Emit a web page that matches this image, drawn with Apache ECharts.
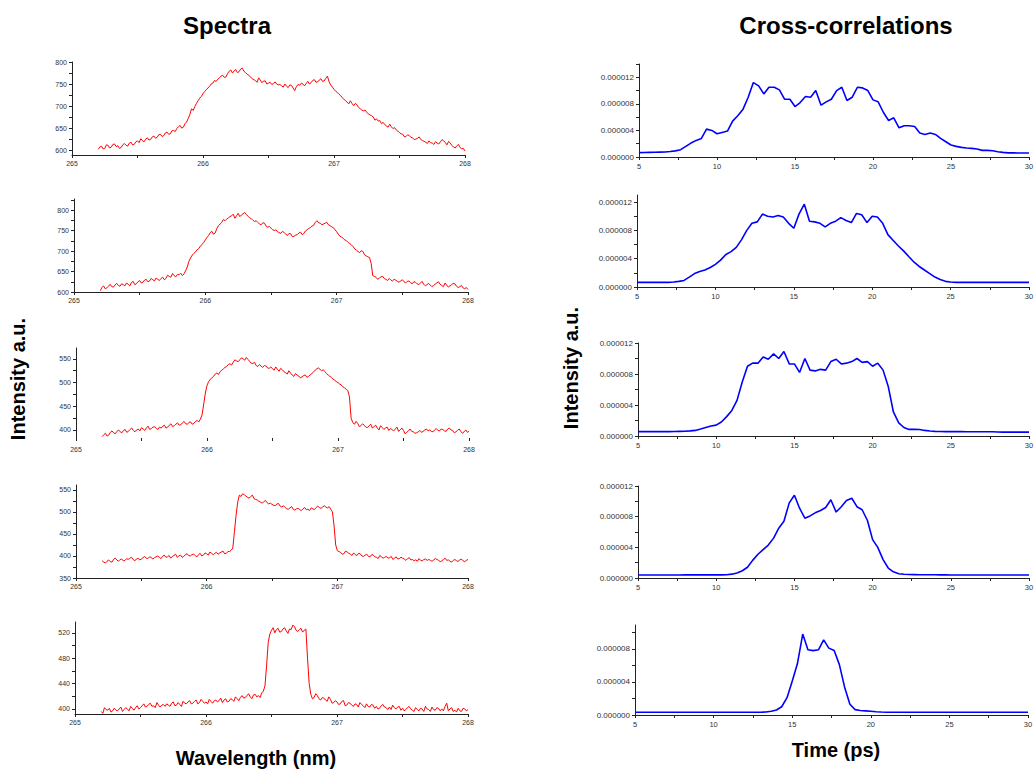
<!DOCTYPE html>
<html>
<head>
<meta charset="utf-8">
<script src="https://cdn.jsdelivr.net/npm/echarts@6/dist/echarts.min.js"></script>
<style>
  html, body { margin: 0; padding: 0; background: #fff; }
  #main { width: 1034px; height: 769px; }
</style>
</head>
<body>
<div id="main"></div>
<script>
// wavelength grid (nm) shared by the five spectra
var wavelength = [
  265.2, 265.2125, 265.225, 265.2375, 265.25, 265.2625, 265.275, 265.2875,
  265.3, 265.3125, 265.325, 265.3375, 265.35, 265.3625, 265.375, 265.3875,
  265.4, 265.4125, 265.425, 265.4375, 265.45, 265.4625, 265.475, 265.4875,
  265.5, 265.5125, 265.525, 265.5375, 265.55, 265.5625, 265.575, 265.5875,
  265.6, 265.6125, 265.625, 265.6375, 265.65, 265.6625, 265.675, 265.6875,
  265.7, 265.7125, 265.725, 265.7375, 265.75, 265.7625, 265.775, 265.7875,
  265.8, 265.8125, 265.825, 265.8375, 265.85, 265.8625, 265.875, 265.8875,
  265.9, 265.9125, 265.925, 265.9375, 265.95, 265.9625, 265.975, 265.9875,
  266.0, 266.0125, 266.025, 266.0375, 266.05, 266.0625, 266.075, 266.0875,
  266.1, 266.1125, 266.125, 266.1375, 266.15, 266.1625, 266.175, 266.1875,
  266.2, 266.2125, 266.225, 266.2375, 266.25, 266.2625, 266.275, 266.2875,
  266.3, 266.3125, 266.325, 266.3375, 266.35, 266.3625, 266.375, 266.3875,
  266.4, 266.4125, 266.425, 266.4375, 266.45, 266.4625, 266.475, 266.4875,
  266.5, 266.5125, 266.525, 266.5375, 266.55, 266.5625, 266.575, 266.5875,
  266.6, 266.6125, 266.625, 266.6375, 266.65, 266.6625, 266.675, 266.6875,
  266.7, 266.7125, 266.725, 266.7375, 266.75, 266.7625, 266.775, 266.7875,
  266.8, 266.8125, 266.825, 266.8375, 266.85, 266.8625, 266.875, 266.8875,
  266.9, 266.9125, 266.925, 266.9375, 266.95, 266.9625, 266.975, 266.9875,
  267.0, 267.0125, 267.025, 267.0375, 267.05, 267.0625, 267.075, 267.0875,
  267.1, 267.1125, 267.125, 267.1375, 267.15, 267.1625, 267.175, 267.1875,
  267.2, 267.2125, 267.225, 267.2375, 267.25, 267.2625, 267.275, 267.2875,
  267.3, 267.3125, 267.325, 267.3375, 267.35, 267.3625, 267.375, 267.3875,
  267.4, 267.4125, 267.425, 267.4375, 267.45, 267.4625, 267.475, 267.4875,
  267.5, 267.5125, 267.525, 267.5375, 267.55, 267.5625, 267.575, 267.5875,
  267.6, 267.6125, 267.625, 267.6375, 267.65, 267.6625, 267.675, 267.6875,
  267.7, 267.7125, 267.725, 267.7375, 267.75, 267.7625, 267.775, 267.7875,
  267.8, 267.8125, 267.825, 267.8375, 267.85, 267.8625, 267.875, 267.8875,
  267.9, 267.9125, 267.925, 267.9375, 267.95, 267.9625, 267.975, 267.9875,
  268.0
];

var spectrum1 = [
  602, 607, 609, 603, 604, 612, 611, 605,
  607, 613, 614, 608, 610, 604, 606, 612,
  615, 611, 609, 616, 618, 612, 613, 619,
  621, 617, 626, 622, 619, 625, 628, 623,
  624, 630, 632, 627, 629, 635, 636, 631,
  633, 639, 641, 636, 637, 644, 645, 642,
  649, 653, 656, 650, 652, 660, 664, 672,
  681, 694, 690, 699, 706, 712, 718, 722,
  728, 733, 737, 741, 745, 750, 752, 758,
  756, 761, 764, 768, 770, 765, 766, 774,
  779, 782, 775, 780, 783, 776, 778, 784,
  786, 779, 776, 772, 770, 766, 762, 760,
  758, 754, 764, 759, 753, 757, 757, 750,
  752, 754, 749, 751, 755, 750, 748, 749,
  746, 743, 750, 745, 742, 748, 747, 741,
  735, 744, 749, 747, 752, 750, 746, 751,
  756, 750, 753, 758, 760, 754, 755, 759,
  762, 756, 757, 763, 768, 755, 748, 743,
  738, 734, 731, 727, 724, 719, 716, 712,
  709, 705, 712, 706, 701, 706, 703, 697,
  694, 691, 689, 691, 686, 682, 680, 678,
  675, 668, 671, 666, 667, 660, 663, 658,
  655, 652, 659, 653, 649, 651, 646, 643,
  640, 637, 636, 630, 631, 635, 633, 629,
  628, 624, 625, 627, 630, 624, 622, 620,
  618, 615, 621, 617, 616, 613, 619, 616,
  614, 619, 624, 621, 617, 612, 620, 616,
  611, 607, 605, 610, 613, 606, 603, 604,
  598
];

var spectrum2 = [
  603, 611, 615, 608, 610, 614, 619, 613,
  612, 617, 621, 616, 614, 620, 618, 615,
  622, 619, 615, 623, 626, 618, 620, 625,
  628, 622, 624, 629, 631, 625, 627, 633,
  630, 627, 634, 631, 628, 633, 636, 630,
  633, 641, 638, 636, 645, 640, 637, 643,
  642, 646, 640, 644, 652, 661, 675, 683,
  690, 694, 698, 703, 706, 712, 716, 721,
  727, 733, 738, 745, 748, 741, 744, 755,
  762, 766, 770, 777, 774, 778, 781, 784,
  786, 790, 780, 786, 792, 784, 788, 791,
  794, 789, 785, 781, 779, 775, 772, 774,
  770, 766, 764, 769, 768, 761, 758, 760,
  756, 752, 750, 752, 747, 745, 743, 748,
  745, 741, 738, 743, 742, 735, 736, 739,
  740, 744, 746, 740, 743, 749, 752, 755,
  757, 761, 763, 770, 774, 769, 768, 764,
  766, 768, 770, 764, 762, 759, 757, 752,
  747, 741, 736, 734, 731, 727, 725, 721,
  718, 715, 711, 705, 702, 699, 696, 701,
  699, 691, 688, 686, 684, 670, 640, 638,
  636, 631, 634, 637, 638, 633, 631, 628,
  633, 629, 627, 631, 629, 626, 624, 627,
  630, 625, 622, 626, 627, 623, 620, 625,
  624, 620, 618, 622, 626, 619, 615, 618,
  621, 617, 613, 616, 619, 622, 625, 619,
  616, 613, 622, 617, 612, 615, 618, 621,
  620, 614, 611, 613, 616, 610, 608, 611,
  606
];

var spectrum3 = [
  386, 390, 393, 387, 389, 395, 398, 394,
  392, 397, 400, 396, 394, 399, 401, 395,
  397, 401, 404, 399, 396, 400, 402, 398,
  405, 402, 399, 404, 408, 401, 403, 406,
  407, 403, 401, 406, 404, 408, 410, 404,
  406, 410, 413, 407, 409, 412, 415, 410,
  411, 415, 418, 413, 412, 416, 417, 412,
  414, 418, 420, 417, 423, 432, 455, 478,
  494, 502, 507, 510, 513, 518, 520, 517,
  523, 526, 529, 532, 534, 538, 540, 537,
  543, 548, 546, 544, 548, 552, 551, 547,
  553, 549, 545, 541, 540, 543, 536, 534,
  538, 535, 532, 536, 535, 531, 530, 533,
  529, 526, 533, 528, 524, 530, 527, 523,
  521, 518, 525, 520, 516, 513, 519, 516,
  514, 510, 512, 515, 516, 511, 513, 516,
  519, 522, 526, 529, 531, 528, 525, 527,
  523, 519, 516, 513, 511, 507, 505, 502,
  500, 497, 495, 491, 489, 486, 483, 470,
  425, 416, 412, 418, 414, 407, 409, 413,
  410, 406, 405, 409, 412, 404, 407, 410,
  404, 400, 409, 405, 401, 404, 406, 399,
  403, 401, 398, 402, 406, 397, 400, 404,
  399, 392, 395, 398, 402, 397, 396, 393,
  394, 396, 399, 395, 397, 400, 402, 398,
  400, 397, 396, 400, 403, 399, 398, 402,
  401, 398, 397, 402, 404, 400, 399, 394,
  396, 399, 402, 397, 393, 396, 400, 395,
  397
];

var spectrum4 = [
  389, 386, 384, 388, 391, 387, 386, 392,
  395, 391, 388, 392, 393, 389, 390, 394,
  392, 395, 397, 392, 389, 393, 395, 391,
  393, 396, 399, 395, 394, 398, 397, 393,
  396, 398, 400, 397, 394, 399, 402, 397,
  398, 401, 395, 399, 401, 404, 397, 400,
  402, 397, 399, 403, 405, 401, 400, 403,
  404, 401, 398, 403, 406, 400, 402, 407,
  405, 402, 409, 406, 403, 406, 408, 404,
  407, 409, 411, 405, 406, 410, 410, 413,
  418, 455, 492, 522, 538, 535, 541, 539,
  536, 533, 531, 535, 538, 530, 528, 527,
  524, 522, 520, 523, 526, 521, 518, 520,
  517, 515, 514, 518, 519, 513, 511, 514,
  510, 507, 506, 509, 512, 506, 504, 507,
  508, 505, 503, 507, 510, 505, 506, 503,
  509, 507, 505, 510, 513, 510, 508, 511,
  514, 511, 509, 512, 506, 500, 468, 425,
  412, 410, 408, 404, 405, 411, 409, 406,
  404, 401, 407, 403, 401, 406, 405, 400,
  399, 402, 404, 399, 398, 403, 402, 398,
  397, 394, 401, 398, 395, 397, 399, 395,
  396, 399, 392, 395, 398, 393, 394, 397,
  395, 393, 390, 394, 396, 391, 392, 389,
  391, 388, 394, 390, 389, 392, 393, 390,
  392, 390, 388, 391, 394, 392, 390, 387,
  389, 392, 395, 390, 391, 388, 386, 390,
  392, 389, 388, 391, 393, 389, 387, 390,
  392
];

var spectrum5 = [
  396, 393, 402, 399, 398, 401, 395, 397,
  401, 398, 397, 400, 403, 396, 399, 402,
  400, 397, 404, 401, 398, 402, 405, 400,
  402, 405, 408, 403, 404, 407, 409, 404,
  405, 402, 410, 406, 403, 406, 407, 404,
  408, 406, 404, 409, 411, 405, 406, 410,
  407, 404, 412, 409, 408, 411, 413, 408,
  409, 412, 414, 408, 410, 415, 412, 409,
  411, 408, 415, 412, 409, 413, 414, 411,
  413, 417, 410, 414, 416, 411, 412, 416,
  415, 412, 419, 416, 413, 418, 421, 417,
  418, 421, 424, 419, 416, 422, 423, 419,
  421, 418, 425, 428, 436, 468, 505, 518,
  524, 528, 520, 525, 527, 521, 522, 526,
  528, 523, 519, 526, 525, 532, 530, 524,
  522, 525, 527, 521, 524, 526, 480, 440,
  423, 416, 418, 424, 421, 416, 414, 418,
  417, 414, 412, 419, 415, 409, 410, 413,
  411, 407, 408, 412, 413, 405, 406, 410,
  409, 406, 404, 408, 407, 403, 410, 407,
  405, 402, 408, 404, 403, 407, 406, 401,
  404, 400, 401, 405, 407, 403, 402, 399,
  403, 399, 406, 402, 400, 403, 404, 398,
  401, 397, 399, 402, 404, 400, 398, 396,
  402, 399, 397, 401, 400, 396, 404, 400,
  399, 396, 403, 399, 398, 402, 401, 397,
  400, 397, 404, 409, 397, 400, 402, 396,
  398, 395, 401, 397, 396, 401, 400, 397,
  399
];

// delay (ps) shared by the five cross-correlations, intensities in units of 1e-6
var time = [
  5.00, 5.33, 5.67,  6.00, 6.33, 6.67,  7.00, 7.33, 7.67,  8.00, 8.33, 8.67,
  9.00, 9.33, 9.67,  10.00, 10.33, 10.67,  11.00, 11.33, 11.67,  12.00, 12.33, 12.67,
  13.00, 13.33, 13.67,  14.00, 14.33, 14.67,  15.00, 15.33, 15.67,  16.00, 16.33, 16.67,
  17.00, 17.33, 17.67,  18.00, 18.33, 18.67,  19.00, 19.33, 19.67,  20.00, 20.33, 20.67,
  21.00, 21.33, 21.67,  22.00, 22.33, 22.67,  23.00, 23.33, 23.67,  24.00, 24.33, 24.67,
  25.00, 25.33, 25.67,  26.00, 26.33, 26.67,  27.00, 27.33, 27.67,  28.00, 28.33, 28.67,
  29.00, 29.33, 29.67,  30.00
];

var xcorr1 = [
  0.66, 0.68, 0.70,  0.72, 0.74, 0.75,  0.82, 0.92, 1.10,  1.6, 2.1, 2.5,
  2.8, 4.2, 4.0,  3.5, 3.7, 3.9,  5.4, 6.2, 7.2,  9.0, 11.2, 10.7,
  9.5, 10.5, 10.5,  10.1, 8.7, 8.7,  7.6, 8.2, 9.1,  9.0, 10.0, 7.8,
  8.3, 8.7, 10.0,  10.5, 8.5, 9.0,  10.5, 10.4, 10.0,  8.6, 8.3, 6.7,
  5.5, 5.9, 4.4,  4.7, 4.7, 4.6,  3.6, 3.4, 3.6,  3.4, 2.8, 2.3,
  1.8, 1.6, 1.45,  1.35, 1.3, 1.2,  1.0, 1.0, 0.95,  0.8, 0.7, 0.62,
  0.62, 0.6, 0.6,  0.6
];

var xcorr2 = [
  0.65, 0.65, 0.65,  0.65, 0.65, 0.65,  0.66, 0.7, 0.8,  0.93, 1.4, 1.9,
  2.2, 2.4, 2.75,  3.2, 3.8, 4.6,  5.0, 5.6, 6.7,  8.0, 9.0, 9.2,
  10.3, 10.0, 9.9,  10.1, 9.9, 9.0,  8.3, 10.3, 11.7,  9.3, 9.2, 9.0,
  8.5, 9.0, 9.3,  9.8, 9.4, 9.1,  10.4, 10.2, 9.1,  10.0, 9.9, 9.0,
  7.4, 6.6, 5.8,  5.1, 4.3, 3.5,  2.9, 2.4, 1.9,  1.4, 1.05, 0.8,
  0.7, 0.66, 0.65,  0.65, 0.65, 0.65,  0.65, 0.65, 0.65,  0.65, 0.65, 0.65,
  0.65, 0.65, 0.65,  0.65
];

var xcorr3 = [
  0.56, 0.56, 0.56,  0.56, 0.56, 0.57,  0.57, 0.58, 0.6,  0.62, 0.66, 0.72,
  0.9, 1.1, 1.3,  1.4, 1.8, 2.5,  3.3, 4.6, 7.0,  9.0, 9.4, 9.4,
  10.2, 9.9, 10.6,  10.0, 10.9, 9.3,  9.3, 8.2, 10.0,  8.5, 8.4, 8.6,
  8.5, 9.6, 9.9,  9.3, 9.4, 9.6,  10.0, 9.5, 9.6,  9.0, 9.4, 8.5,
  6.4, 3.1, 1.7,  1.1, 0.85, 0.85,  0.84, 0.72, 0.65,  0.6, 0.58, 0.56,
  0.56, 0.56, 0.56,  0.55, 0.55, 0.55,  0.55, 0.54, 0.54,  0.52, 0.5, 0.5,
  0.5, 0.5, 0.52,  0.5
];

var xcorr4 = [
  0.4, 0.4, 0.4,  0.4, 0.4, 0.4,  0.4, 0.4, 0.4,  0.41, 0.41, 0.41,
  0.41, 0.41, 0.41,  0.41, 0.41, 0.43,  0.5, 0.65, 0.95,  1.4, 2.3, 3.1,
  3.7, 4.3, 5.2,  6.5, 7.4, 9.8,  10.8, 9.1, 7.8,  8.1, 8.5, 8.8,
  9.2, 10.2, 8.6,  9.3, 10.1, 10.4,  9.3, 8.9, 7.5,  5.0, 4.0, 2.4,
  1.3, 0.8, 0.55,  0.48, 0.45, 0.44,  0.43, 0.42, 0.42,  0.42, 0.41, 0.41,
  0.4, 0.4, 0.4,  0.4, 0.4, 0.4,  0.4, 0.4, 0.4,  0.4, 0.4, 0.4,
  0.4, 0.4, 0.4,  0.4
];

var xcorr5 = [
  0.33, 0.33, 0.33,  0.33, 0.33, 0.33,  0.33, 0.33, 0.33,  0.33, 0.33, 0.33,
  0.33, 0.33, 0.33,  0.33, 0.33, 0.33,  0.33, 0.33, 0.33,  0.33, 0.33, 0.33,
  0.34, 0.36, 0.45,  0.6, 1.0, 2.1,  4.1, 6.2, 9.8,  7.9, 7.8, 7.9,
  9.1, 8.1, 7.8,  6.1, 3.4, 1.3,  0.65, 0.55, 0.5,  0.45, 0.4, 0.36,
  0.34, 0.33, 0.33,  0.33, 0.33, 0.33,  0.33, 0.33, 0.33,  0.33, 0.33, 0.33,
  0.33, 0.33, 0.33,  0.33, 0.33, 0.33,  0.33, 0.33, 0.33,  0.33, 0.33, 0.33,
  0.33, 0.33, 0.33,  0.33
];

var spectra = [spectrum1, spectrum2, spectrum3, spectrum4, spectrum5];
var xcorrs = [xcorr1, xcorr2, xcorr3, xcorr4, xcorr5];

var waveLabels = [265, 266, 267, 268];
var waveTicks = [265, 265.5, 266, 266.5, 267, 267.5, 268];
var timeLabels = [5, 10, 15, 20, 25, 30];
var timeTicks = [5, 7.5, 10, 12.5, 15, 17.5, 20, 22.5, 25, 27.5, 30];

// panel boxes and intensity ranges
var leftPanels = [
  { left: 72, top: 62, width: 393, height: 93, min: 589, max: 800,
    labels: [600, 650, 700, 750, 800], ticks: [600, 625, 650, 675, 700, 725, 750, 775, 800] },
  { left: 74, top: 199, width: 394, height: 93, min: 600, max: 827,
    labels: [600, 650, 700, 750, 800], ticks: [600, 625, 650, 675, 700, 725, 750, 775, 800, 825] },
  { left: 76, top: 348, width: 393, height: 90, min: 383, max: 573, noLine: true,
    labels: [400, 450, 500, 550], ticks: [400, 425, 450, 475, 500, 525, 550] },
  { left: 76, top: 485, width: 392, height: 93, min: 350, max: 561,
    labels: [350, 400, 450, 500, 550], ticks: [350, 375, 400, 425, 450, 475, 500, 525, 550] },
  { left: 75, top: 622, width: 393, height: 92, min: 392, max: 537,
    labels: [400, 440, 480, 520], ticks: [400, 420, 440, 460, 480, 500, 520] }
];
var rightPanels = [
  { left: 639, top: 64, width: 390, height: 93, max: 14,
    labels: [0, 4, 8, 12], ticks: [0, 2, 4, 6, 8, 10, 12, 14] },
  { left: 637, top: 195, width: 392, height: 92, max: 13,
    labels: [0, 4, 8, 12], ticks: [0, 2, 4, 6, 8, 10, 12] },
  { left: 638, top: 343, width: 391, height: 93, max: 12,
    labels: [0, 4, 8, 12], ticks: [0, 2, 4, 6, 8, 10, 12] },
  { left: 638, top: 486, width: 391, height: 92, max: 12,
    labels: [0, 4, 8, 12], ticks: [0, 2, 4, 6, 8, 10, 12] },
  { left: 635, top: 625, width: 393, height: 90, max: 10.9,
    labels: [0, 4, 8], ticks: [0, 2, 4, 6, 8, 10] }
];

var font = '"Liberation Sans", Arial, sans-serif';
var axisColor = '#222';
var labelColor = '#333';

var chartDom = document.getElementById('main');
var myChart = echarts.init(chartDom, null, { renderer: 'svg' });

var grids = [], xAxes = [], yAxes = [], series = [];

function addPanel(box, xMin, xMax, xLabels, xTicks, yMin, yLabelSize, yFormatter, pairs, color, lineWidth) {
  var idx = grids.length;
  grids.push({ left: box.left, top: box.top, width: box.width, height: box.height,
    containLabel: false, outerBoundsMode: 'none' });
  xAxes.push({
    type: 'value', gridIndex: idx, min: xMin, max: xMax,
    splitLine: { show: false },
    axisLine: { show: !box.noLine, onZero: false, lineStyle: { color: axisColor, width: 1 } },
    axisTick: { show: true, length: 3, customValues: xTicks, lineStyle: { color: axisColor } },
    axisLabel: { customValues: xLabels, fontSize: xLabels === waveLabels ? 7 : 7.5, color: labelColor,
      fontFamily: font, margin: box.noLine ? 8 : 5, hideOverlap: false }
  });
  yAxes.push({
    type: 'value', gridIndex: idx, min: yMin, max: box.max,
    splitLine: { show: false },
    axisLine: { show: true, onZero: false, lineStyle: { color: axisColor, width: 1 } },
    axisTick: { show: true, length: 3, customValues: box.ticks, lineStyle: { color: axisColor } },
    axisLabel: { customValues: box.labels, fontSize: yLabelSize, color: labelColor,
      fontFamily: font, margin: 5, formatter: yFormatter }
  });
  series.push({
    type: 'line', xAxisIndex: idx, yAxisIndex: idx, data: pairs,
    showSymbol: false, symbol: 'none', smooth: false,
    lineStyle: { color: color, width: lineWidth }
  });
}

for (var i = 0; i < 5; i++) {
  var sp = spectra[i];
  addPanel(leftPanels[i], 265, 268, waveLabels, waveTicks, leftPanels[i].min, 7,
    function (v) { return String(v); },
    wavelength.map(function (w, k) { return [w, sp[k]]; }), '#ff0000', 1);
  var xc = xcorrs[i];
  addPanel(rightPanels[i], 5, 30, timeLabels, timeTicks, 0, 8,
    function (v) { return (v / 1e6).toFixed(6); },
    time.map(function (t, k) { return [t, xc[k]]; }), '#0000ff', 1.6);
}

function label(text, x, y, size, rotation) {
  return {
    type: 'text', x: x, y: y, rotation: rotation || 0, silent: true,
    style: {
      text: text, fill: '#000', font: 'bold ' + size + 'px ' + font,
      textAlign: 'center', textVerticalAlign: 'middle'
    }
  };
}

var option = {
  animation: false,
  backgroundColor: '#ffffff',
  grid: grids,
  xAxis: xAxes,
  yAxis: yAxes,
  series: series,
  graphic: [
    label('Spectra', 227, 25, 24),
    label('Cross-correlations', 846, 25, 24),
    label('Intensity a.u.', 18, 379, 20, Math.PI / 2),
    label('Intensity a.u.', 571, 368, 20, Math.PI / 2),
    label('Wavelength (nm)', 256, 758, 20),
    label('Time (ps)', 836, 750, 20)
  ]
};

myChart.setOption(option);
</script>
</body>
</html>
